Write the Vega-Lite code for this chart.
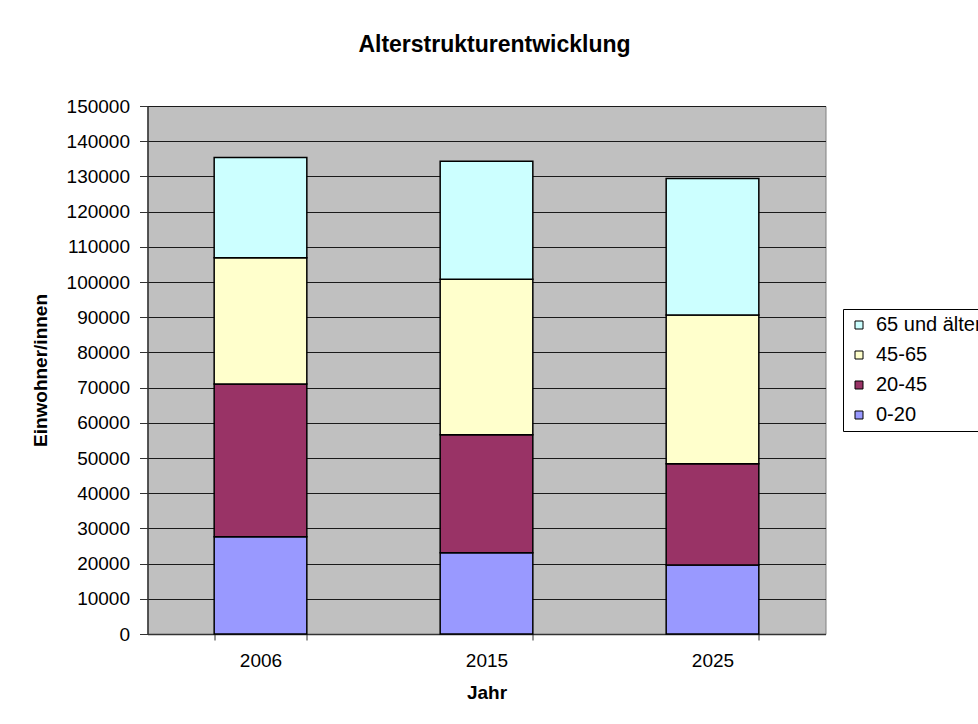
{
  "$schema": "https://vega.github.io/schema/vega-lite/v6.json",
  "autosize": {"type": "none"},
  "width": 678,
  "height": 528,
  "padding": {"left": 147.5, "top": 106, "right": 152.5, "bottom": 90},
  "background": "white",
  "title": {
    "text": "Alterstrukturentwicklung",
    "font": "Liberation Sans",
    "fontSize": 23,
    "fontWeight": "bold",
    "color": "black",
    "anchor": "middle",
    "offset": 40,
    "dx": 8
  },
  "data": {
    "values": [
      {"Jahr": "2006", "Gruppe": "0-20", "Wert": 27600, "ord": 1},
      {"Jahr": "2006", "Gruppe": "20-45", "Wert": 43400, "ord": 2},
      {"Jahr": "2006", "Gruppe": "45-65", "Wert": 35900, "ord": 3},
      {"Jahr": "2006", "Gruppe": "65 und älter", "Wert": 28500, "ord": 4},
      {"Jahr": "2015", "Gruppe": "0-20", "Wert": 23100, "ord": 1},
      {"Jahr": "2015", "Gruppe": "20-45", "Wert": 33500, "ord": 2},
      {"Jahr": "2015", "Gruppe": "45-65", "Wert": 44200, "ord": 3},
      {"Jahr": "2015", "Gruppe": "65 und älter", "Wert": 33500, "ord": 4},
      {"Jahr": "2025", "Gruppe": "0-20", "Wert": 19600, "ord": 1},
      {"Jahr": "2025", "Gruppe": "20-45", "Wert": 28800, "ord": 2},
      {"Jahr": "2025", "Gruppe": "45-65", "Wert": 42200, "ord": 3},
      {"Jahr": "2025", "Gruppe": "65 und älter", "Wert": 38800, "ord": 4}
    ]
  },
  "mark": {"type": "bar", "stroke": "black", "strokeWidth": 1.5, "opacity": 1},
  "encoding": {
    "x": {
      "field": "Jahr",
      "type": "nominal",
      "scale": {"paddingInner": 0.59, "paddingOuter": 0.295},
      "axis": {
        "title": "Jahr",
        "labelAngle": 0,
        "tickBand": "extent",
        "grid": false,
        "tickSize": 6,
        "labelPadding": 11,
        "titlePadding": 13
      }
    },
    "y": {
      "field": "Wert",
      "type": "quantitative",
      "stack": "zero",
      "scale": {"domain": [0, 150000], "nice": false},
      "axis": {
        "title": "Einwohner/innen",
        "values": [0, 10000, 20000, 30000, 40000, 50000, 60000, 70000, 80000, 90000, 100000, 110000, 120000, 130000, 140000, 150000],
        "format": "d",
        "tickSize": 8,
        "labelPadding": 10,
        "titlePadding": 16,
        "grid": true
      }
    },
    "color": {
      "field": "Gruppe",
      "type": "nominal",
      "scale": {
        "domain": ["65 und älter", "45-65", "20-45", "0-20"],
        "range": ["#CCFFFF", "#FFFFCC", "#993366", "#9999FF"]
      },
      "legend": {
        "title": null,
        "orient": "none",
        "legendX": 695.5,
        "legendY": 203,
        "symbolType": "square",
        "symbolSize": 64,
        "symbolStrokeColor": "black",
        "symbolStrokeWidth": 1,
        "symbolOpacity": 1,
        "labelFontSize": 20,
        "labelOffset": 7,
        "rowPadding": 10,
        "padding": 6,
        "strokeColor": "black",
        "fillColor": "white"
      }
    },
    "order": {"field": "ord", "type": "quantitative"}
  },
  "config": {
    "font": "Liberation Sans",
    "view": {"fill": "#C0C0C0", "stroke": "#808080", "strokeWidth": 1},
    "axis": {
      "labelFont": "Liberation Sans",
      "labelFontSize": 19,
      "labelColor": "black",
      "titleFont": "Liberation Sans",
      "titleFontSize": 19,
      "titleFontWeight": "bold",
      "titleColor": "black",
      "domainColor": "#333333",
      "domainWidth": 1.5,
      "tickColor": "#333333",
      "tickWidth": 1,
      "gridColor": "#1a1a1a",
      "gridWidth": 1,
      "gridOpacity": 1
    },
    "legend": {"labelFont": "Liberation Sans", "labelColor": "black"}
  }
}
